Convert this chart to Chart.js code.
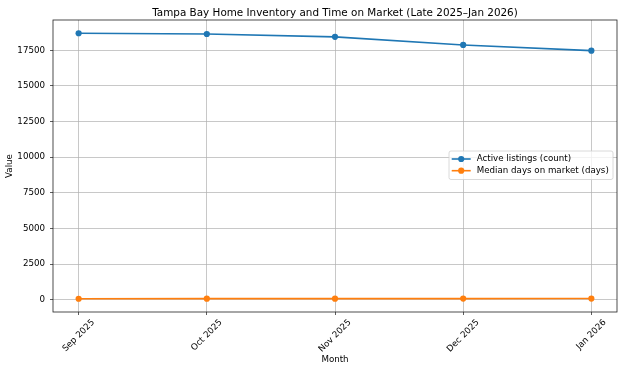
<!DOCTYPE html>
<html>
<head>
<meta charset="utf-8">
<script src="https://cdn.jsdelivr.net/npm/chart.js@4.4.1/dist/chart.umd.min.js"></script>
<style>
  html, body { margin: 0; padding: 0; background: #fff; }
  #wrap { width: 624px; height: 372px; }
</style>
</head>
<body>
<div id="wrap"><canvas id="chart" width="624" height="372"></canvas></div>
<script>
// data
const months = ['Sep 2025', 'Oct 2025', 'Nov 2025', 'Dec 2025', 'Jan 2026'];
const activeListings = [18700, 18650, 18450, 17880, 17480];
const medianDays = [68, 72, 75, 78, 80];
const yTicks = [0, 2500, 5000, 7500, 10000, 12500, 15000, 17500];

const titleText = 'Tampa Bay Home Inventory and Time on Market (Late 2025\u2013Jan 2026)';
const FONT = '"DejaVu Sans", sans-serif';
const BLUE = '#1f77b4';
const ORANGE = '#ff7f0e';

// matplotlib-like 5% margins
const allVals = activeListings.concat(medianDays);
const vMin = Math.min(...allVals), vMax = Math.max(...allVals);
const pad = (vMax - vMin) * 0.05;

const series = [
  { label: 'Active listings (count)', values: activeListings, color: BLUE },
  { label: 'Median days on market (days)', values: medianDays, color: ORANGE }
];

const decor = {
  id: 'decor',
  afterDraw(chart) {
    const { ctx, chartArea: a, scales: { x } } = chart;
    ctx.save();

    // frame
    ctx.strokeStyle = '#222';
    ctx.lineWidth = 0.8;
    ctx.strokeRect(a.left, a.top, a.right - a.left, a.bottom - a.top);

    // title
    ctx.fillStyle = '#000';
    ctx.font = '10.4px ' + FONT;
    ctx.textAlign = 'center';
    ctx.textBaseline = 'alphabetic';
    ctx.fillText(titleText, (a.left + a.right) / 2, 15.5);

    // rotated month labels, centred on ticks
    ctx.font = '8.7px ' + FONT;
    months.forEach((m, i) => {
      const px = x.getPixelForValue(i);
      const w = ctx.measureText(m).width;
      const half = (w + 8.7) * Math.SQRT1_2 / 2;
      ctx.save();
      ctx.translate(px, a.bottom + 6 + half);
      ctx.rotate(-Math.PI / 4);
      ctx.textAlign = 'center';
      ctx.textBaseline = 'middle';
      ctx.fillText(m, 0, 0);
      ctx.restore();
    });

    // axis titles
    ctx.textAlign = 'center';
    ctx.textBaseline = 'middle';
    ctx.fillText('Month', (a.left + a.right) / 2, 360);
    ctx.save();
    ctx.translate(10, (a.top + a.bottom) / 2);
    ctx.rotate(-Math.PI / 2);
    ctx.fillText('Value', 0, 0);
    ctx.restore();

    // legend
    ctx.beginPath();
    ctx.roundRect(449, 151, 164, 28.5, 2);
    ctx.fillStyle = 'rgba(255,255,255,0.8)';
    ctx.fill();
    ctx.strokeStyle = '#d0d0d0';
    ctx.lineWidth = 0.8;
    ctx.stroke();
    series.forEach((s, i) => {
      const ly = 159 + i * 11.7;
      ctx.strokeStyle = s.color;
      ctx.lineWidth = 1.6;
      ctx.beginPath();
      ctx.moveTo(451.7, ly);
      ctx.lineTo(470.7, ly);
      ctx.stroke();
      ctx.fillStyle = s.color;
      ctx.beginPath();
      ctx.arc(461.2, ly, 3.1, 0, Math.PI * 2);
      ctx.fill();
      ctx.fillStyle = '#000';
      ctx.textAlign = 'left';
      ctx.fillText(s.label, 476.7, ly);
    });

    ctx.restore();
  }
};

new Chart(document.getElementById('chart'), {
  type: 'line',
  data: {
    datasets: series.map(s => ({
      label: s.label,
      data: s.values.map((v, i) => ({ x: i, y: v })),
      borderColor: s.color,
      backgroundColor: s.color,
      borderWidth: 1.6,
      pointRadius: 3.1,
      pointBorderWidth: 0,
      tension: 0
    }))
  },
  options: {
    responsive: false,
    animation: false,
    devicePixelRatio: 1,
    layout: { padding: { top: 20, right: 7, left: 0, bottom: 0 } },
    plugins: {
      legend: { display: false },
      title: { display: false },
      tooltip: { enabled: false }
    },
    scales: {
      x: {
        type: 'linear',
        min: -0.2,
        max: 4.2,
        afterBuildTicks: s => { s.ticks = months.map((m, i) => ({ value: i })); },
        afterFit: s => { s.height = 60; },
        ticks: { display: false },
        grid: { color: '#b0b0b0', lineWidth: 0.7, tickLength: 3, tickColor: '#333', tickWidth: 0.8 },
        border: { display: false }
      },
      y: {
        min: vMin - pad,
        max: vMax + pad,
        afterBuildTicks: s => { s.ticks = yTicks.map(v => ({ value: v })); },
        afterFit: s => { s.width = 53; },
        ticks: {
          padding: 5,
          color: '#000',
          font: { family: FONT, size: 8.7 },
          callback: v => String(v)
        },
        grid: { color: '#b0b0b0', lineWidth: 0.7, tickLength: 3, tickColor: '#333', tickWidth: 0.8 },
        border: { display: false }
      }
    }
  },
  plugins: [decor]
});
</script>
</body>
</html>
